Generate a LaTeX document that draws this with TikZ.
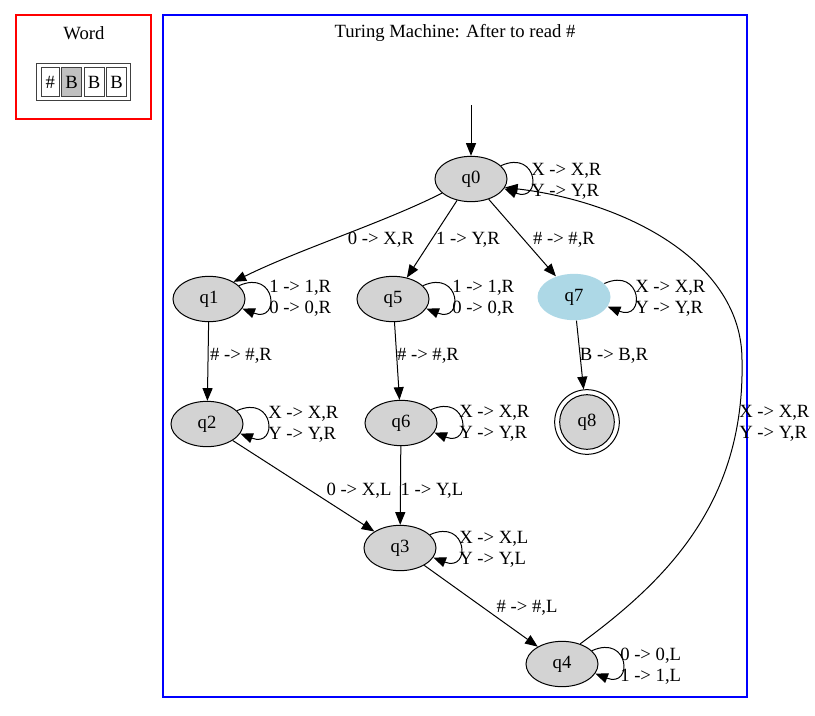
\documentclass[tikz,border=0pt]{standalone}
\usepackage{fontspec}
\setmainfont{Liberation Serif}
\usetikzlibrary{arrows.meta,shapes.geometric}
\definecolor{nodegray}{HTML}{D3D3D3}
\definecolor{nodeblue}{HTML}{ADD8E6}
\definecolor{cellgray}{HTML}{C0C0C0}
\definecolor{tapeline}{HTML}{404040}
\definecolor{clusterblue}{RGB}{0,0,255}
\definecolor{clusterred}{RGB}{255,0,0}
\begin{document}
\begin{tikzpicture}[x=0.75pt,y=-0.75pt,
  st/.style={ellipse,draw,line width=0.75pt,fill=nodegray,minimum width=54pt,minimum height=34pt,inner sep=0pt,font=\fontsize{14}{16}\selectfont},
  arr/.style={-{Triangle[length=9.5pt,width=7.5pt]},line width=0.75pt},
  lbl/.style={font=\fontsize{14}{15.75}\selectfont,inner sep=0pt,align=left},
  cellbox/.style={draw=tapeline,line width=0.75pt,minimum height=22pt,inner sep=0pt,font=\fontsize{14}{16}\selectfont},
  clusterframe/.style={line width=0.9pt,inner sep=0pt}
]
\useasboundingbox (0,0) rectangle (815,715);
% clusters
\node[clusterframe,draw=clusterred,minimum width=101.25pt,minimum height=78pt] (wordbox) at (83.5,67) {};
\node[lbl,anchor=center] (wordtitle) at (84,33) {Word};
\node[clusterframe,draw=clusterblue,minimum width=438pt,minimum height=511.5pt] (tmbox) at (455,356) {};
\node[lbl,anchor=center] (tmtitle) at (455,33) {Turing Machine: After to read \#};
% tape
\node[draw=tapeline,line width=0.75pt,minimum width=70.5pt,minimum height=28pt,inner sep=0pt] (tape) at (83.7,82) {};
\node[cellbox,minimum width=13.75pt] (c1) at (50.2,82) {\#};
\node[cellbox,minimum width=14.7pt,fill=cellgray] (c2) at (71.5,82) {B};
\node[cellbox,minimum width=15pt] (c3) at (94,82) {B};
\node[cellbox,minimum width=15pt] (c4) at (116.7,82) {B};
% states
\node[st] (q0) at (471,179) {q0};
\node[st] (q1) at (209,299) {q1};
\node[st] (q5) at (393,299) {q5};
\node[st,draw=none,fill=nodeblue,minimum width=54.75pt,minimum height=34.75pt] (q7) at (574,297) {q7};
\node[circle,draw,line width=0.75pt,minimum size=48.5pt,inner sep=0pt] (q8) at (587,422) {};
\node[circle,draw,line width=0.75pt,fill=nodegray,minimum size=41pt,inner sep=0pt,font=\fontsize{14}{16}\selectfont] (q8in) at (q8) {q8};
\node[st] (q2) at (207,424) {q2};
\node[st] (q6) at (401,423) {q6};
\node[st] (q3) at (400,548) {q3};
\node[st] (q4) at (562,664) {q4};
% start
\coordinate (s0) at (471,105);
\draw[arr] (s0) -- (q0);
% edges
\draw[arr] (q0.206) .. controls (383,223) and (300,249) .. (q1.35);
\draw[arr] (q0) -- (q5);
\draw[arr] (q0) -- (q7);
\draw[arr] (q1) -- (q2);
\draw[arr] (q5) -- (q6);
\draw[arr] (q7) -- (q8);
\draw[arr] (q2) -- (q3);
\draw[arr] (q6) -- (q3);
\draw[arr] (q3) -- (q4);
\coordinate (via) at (742,360);
\draw[arr] (q4.48) .. controls (670,578) and (745,500) .. (via) .. controls (742,260) and (622,201) .. (q0.-14);
% loops
\foreach \n in {q0,q1,q5,q7,q2,q6,q3,q4}
  \draw[arr] (\n.24) .. controls +(38,-17) and +(38,15) .. (\n.-16);
% edge labels
\node[lbl] (l01) at (381,240) {0 -> X,R};
\node[lbl] (l05) at (468,240) {1 -> Y,R};
\node[lbl] (l07) at (564,240) {\# -> \#,R};
\node[lbl] (l12) at (241,356) {\# -> \#,R};
\node[lbl] (l56) at (428,356) {\# -> \#,R};
\node[lbl] (l78) at (614,356) {B -> B,R};
\node[lbl] (l23) at (359,491) {0 -> X,L};
\node[lbl] (l63) at (432,491) {1 -> Y,L};
\node[lbl] (l34) at (527,608) {\# -> \#,L};
% loop labels
\node[lbl,anchor=west] (s00) at (531,181) {X -> X,R\\Y -> Y,R};
\node[lbl,anchor=west] (s11) at (269,298) {1 -> 1,R\\0 -> 0,R};
\node[lbl,anchor=west] (s55) at (452,298) {1 -> 1,R\\0 -> 0,R};
\node[lbl,anchor=west] (s77) at (635,298) {X -> X,R\\Y -> Y,R};
\node[lbl,anchor=west] (s22) at (268,424) {X -> X,R\\Y -> Y,R};
\node[lbl,anchor=west] (s66) at (459,423) {X -> X,R\\Y -> Y,R};
\node[lbl,anchor=west] (s33) at (459,549) {X -> X,L\\Y -> Y,L};
\node[lbl,anchor=west] (s44) at (620,666) {0 -> 0,L\\1 -> 1,L};
\node[lbl,anchor=west] (l40) at (739,423) {X -> X,R\\Y -> Y,R};
\end{tikzpicture}
\end{document}
